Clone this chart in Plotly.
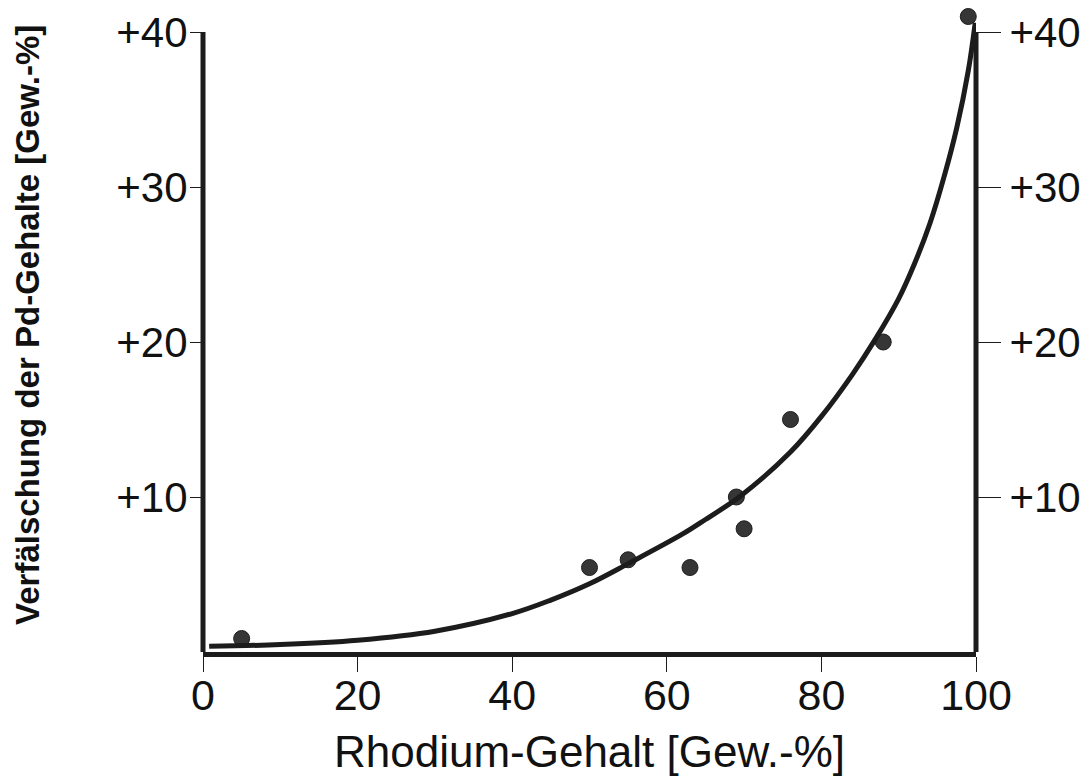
import plotly.graph_objects as go

# Measured data points (Rhodium content vs. Pd falsification)
rh_points = [5, 50, 55, 63, 69, 70, 76, 88, 99]
pd_points = [0.87, 5.45, 5.95, 5.45, 10.0, 7.95, 15.0, 20.0, 41.0]

# Fitted curve
rh_curve = [0.8, 10, 20, 30, 40, 45, 50, 55, 62, 65, 69.5, 76, 80, 84, 87, 90, 92, 94, 96, 97.5, 99, 99.9]
pd_curve = [0.37, 0.48, 0.76, 1.34, 2.48, 3.35, 4.4, 5.7, 7.6, 8.55, 10.05, 12.9, 15.2, 17.9, 20.2, 22.8, 25.0, 27.6, 30.9, 33.8, 37.5, 40.6]

x_ticks = [0, 20, 40, 60, 80, 100]
y_ticks = [10, 20, 30, 40]
y_ticktext = ["+10", "+20", "+30", "+40"]
y_axis_top = 40

x_title = "Rhodium-Gehalt [Gew.-%]"
y_title = "Verfälschung der Pd-Gehalte [Gew.-%]"

INK = "#1c1c1c"
TXT = "#111111"
FONT = "Liberation Sans, Arial, sans-serif"

fig = go.Figure()
fig.add_trace(go.Scatter(
    x=rh_curve, y=pd_curve, mode="lines",
    line=dict(color=INK, width=5, shape="spline", smoothing=1.0),
    hoverinfo="skip", showlegend=False, yaxis="y2",
))
fig.add_trace(go.Scatter(
    x=rh_points, y=pd_points, mode="markers",
    marker=dict(size=16, color="#363636", line=dict(color="#1e1e1e", width=1)),
    cliponaxis=False, showlegend=False, yaxis="y",
))

# axis spines (left and right) ending at the top tick, like the original
for side in (0, 1):
    fig.add_shape(type="line", xref="x domain", yref="y",
                  x0=side, x1=side, y0=-0.3, y1=y_axis_top,
                  line=dict(color=INK, width=5), layer="above")

fig.add_annotation(
    text="<b>" + y_title + "</b>", textangle=-90,
    xref="paper", yref="paper", x=-0.228, y=0.502,
    xanchor="center", yanchor="middle", showarrow=False,
    font=dict(size=33, family=FONT, color=TXT),
)

fig.update_layout(
    width=1082, height=776,
    margin=dict(l=203, r=106, t=1, b=124),
    paper_bgcolor="white", plot_bgcolor="white",
    font=dict(family=FONT, color=TXT),
    xaxis=dict(
        range=[0, 100], tickvals=x_ticks, ticks="outside", ticklen=15, tickwidth=1,
        tickcolor=INK, showline=True, linewidth=5, linecolor=INK,
        showgrid=False, zeroline=False, automargin=False, ticklabelstandoff=-14,
        tickfont=dict(size=43, family=FONT, color=TXT),
        title=dict(text=x_title, font=dict(size=44, family=FONT, color=TXT), standoff=32),
    ),
    yaxis=dict(
        range=[0, 42], tickvals=y_ticks, ticktext=y_ticktext, ticks="outside", ticklen=12,
        tickwidth=1, tickcolor=INK, showline=False,
        showgrid=False, zeroline=False, automargin=False, ticklabelstandoff=-6,
        tickfont=dict(size=42, family=FONT, color=TXT),
    ),
    yaxis2=dict(
        range=[0, 42], tickvals=y_ticks, ticktext=y_ticktext, overlaying="y", side="right",
        ticks="outside", ticklen=24, tickwidth=1, tickcolor=INK, automargin=False,
        showline=False, showgrid=False, zeroline=False,
        tickfont=dict(size=42, family=FONT, color=TXT),
    ),
)

fig.write_html("out.html")
